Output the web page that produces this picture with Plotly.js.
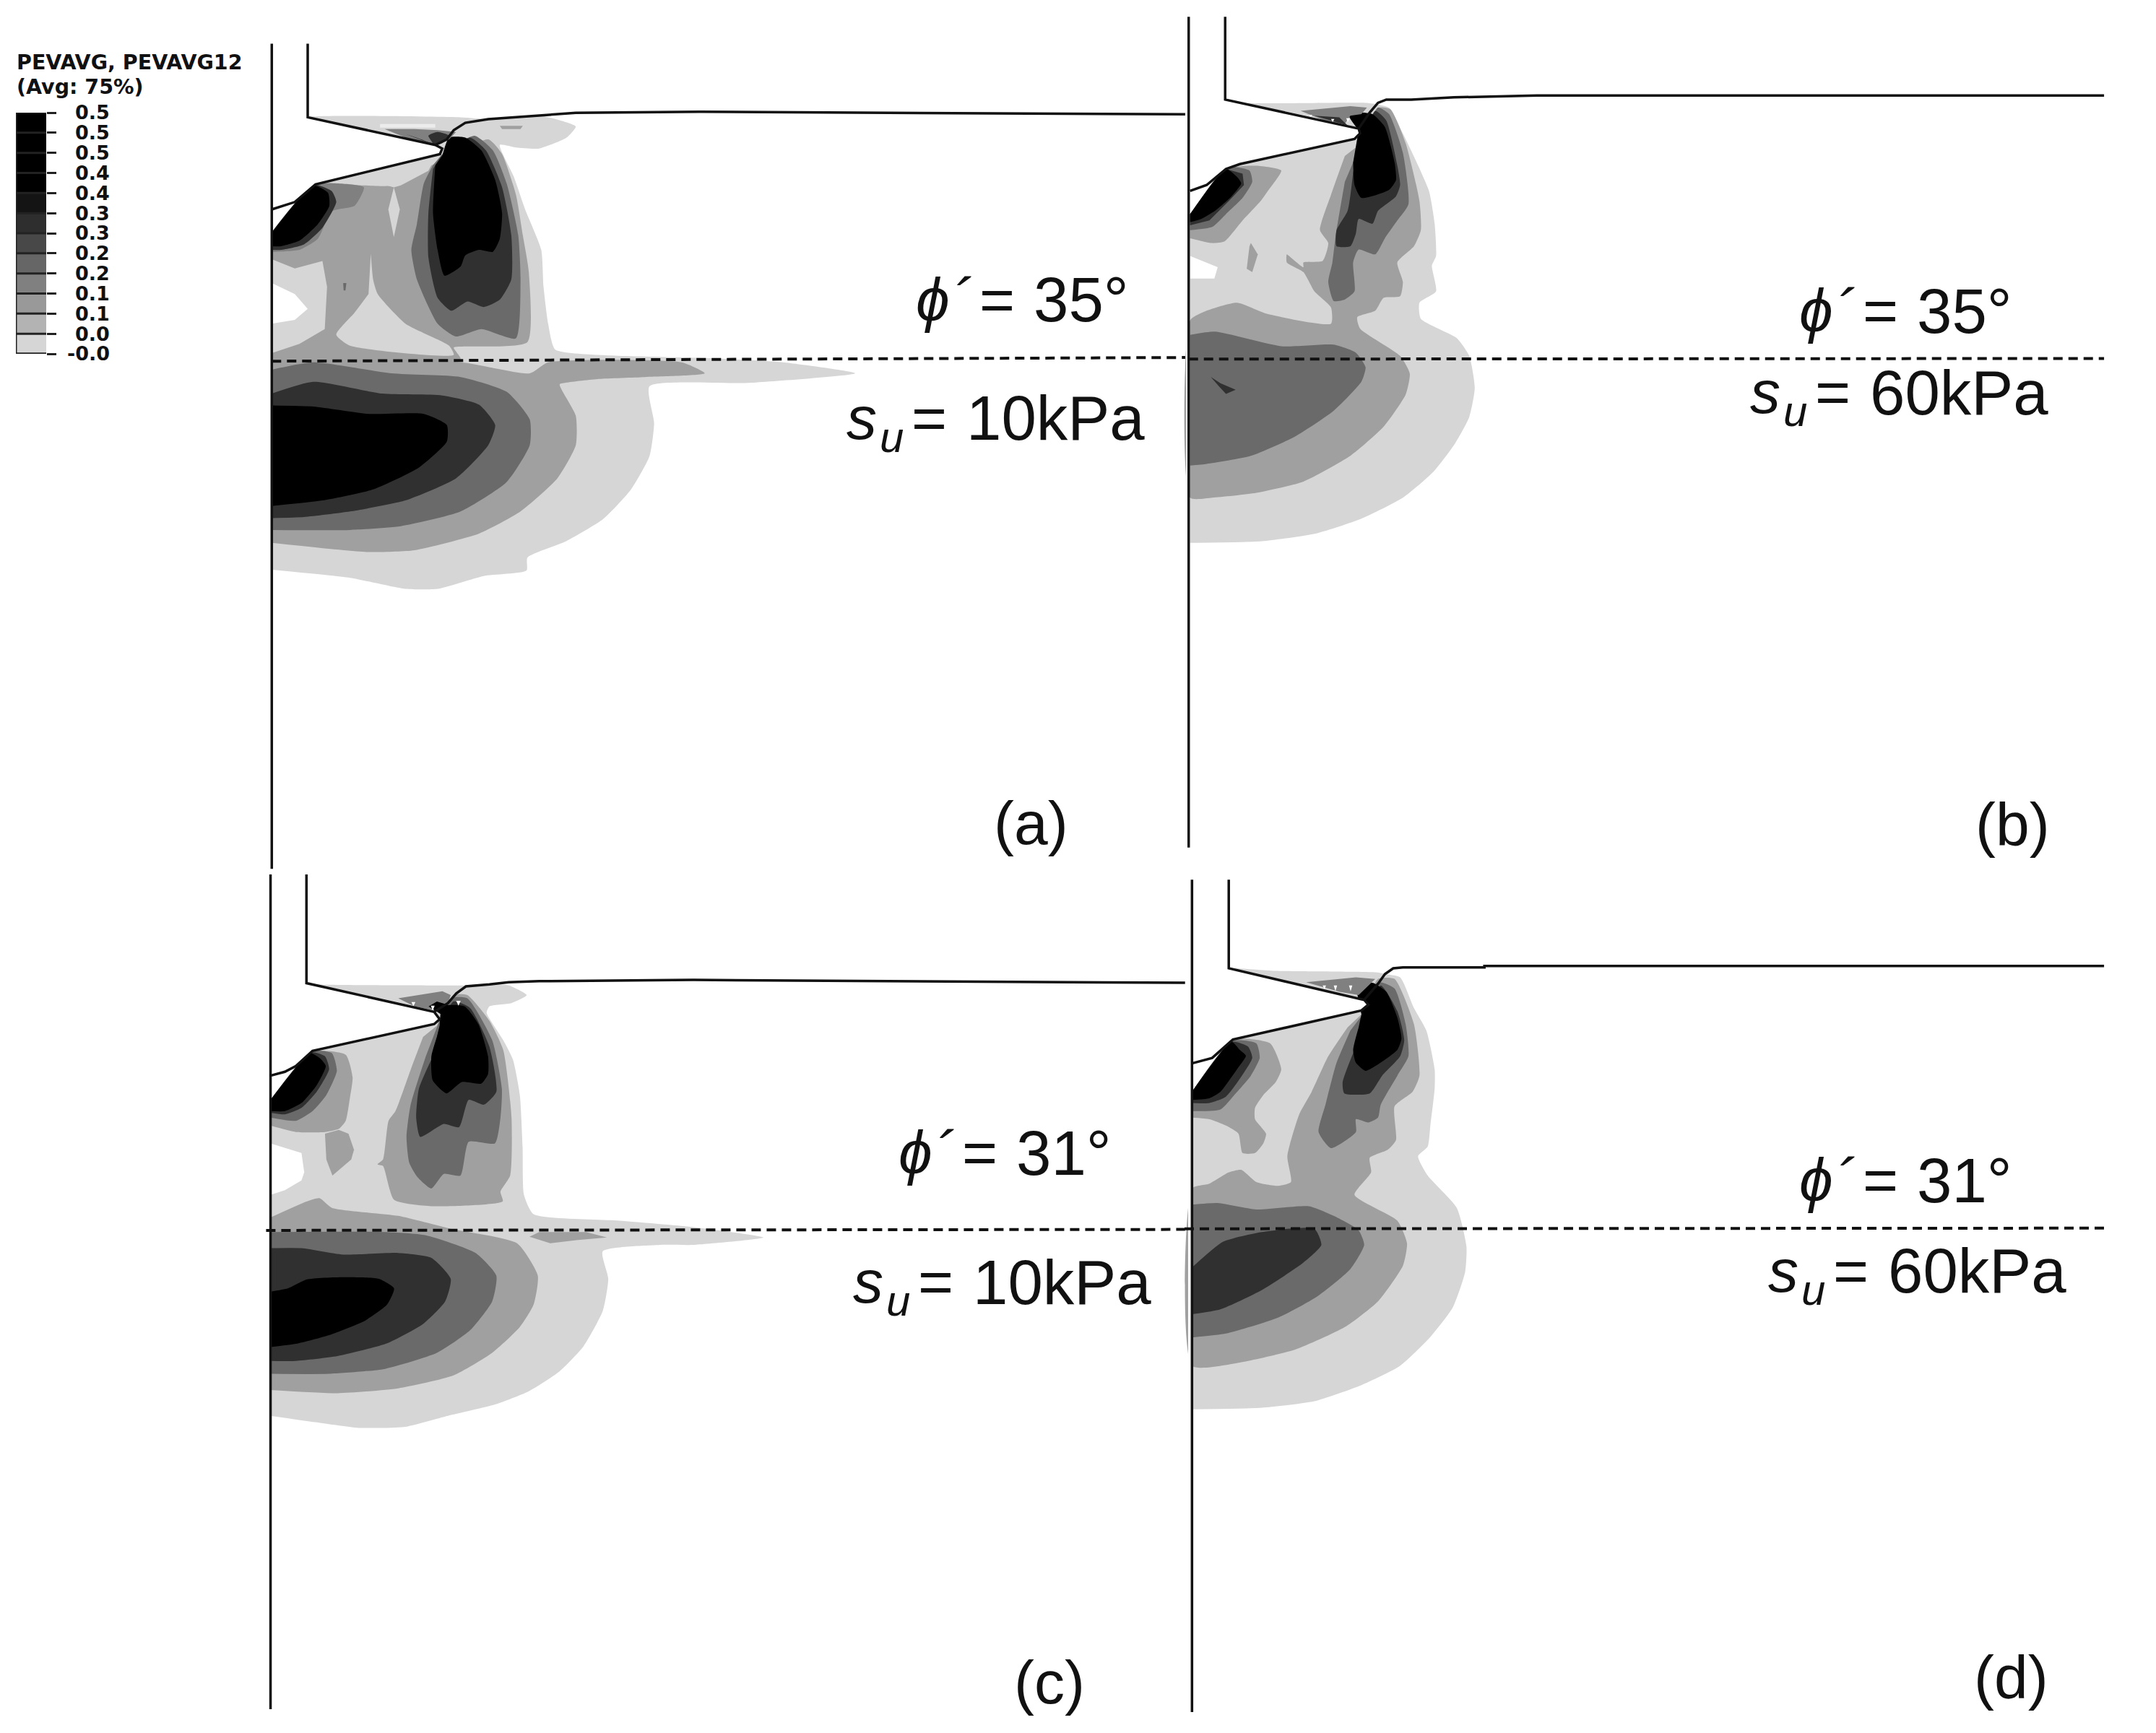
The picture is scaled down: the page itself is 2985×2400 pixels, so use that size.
<!DOCTYPE html>
<html><head><meta charset="utf-8">
<script src="https://cdn.plot.ly/plotly-3.0.1.min.js"></script>
<style>html,body{margin:0;padding:0;background:#fff}</style></head>
<body><div id="chart" style="width:2985px;height:2400px"></div>
<script>
// Legend of the contour plot
const legendTitle = ['PEVAVG, PEVAVG12','(Avg: 75%)'];
const legendTicks = ['-0.0','0.0','0.1','0.1','0.2','0.2','0.3','0.3','0.4','0.4','0.5','0.5','0.5'];
const legendShades = ['#d6d6d6','#b3b3b3','#999999','#808080','#666666','#484848','#2e2e2e','#141414','#000000','#000000','#000000','#000000'];

// Shade of each contour band
const W='#ffffff',P='#ececec',L='#d6d6d6',M='#a0a0a0',N='#808080',G='#6a6a6a',D='#303030',K='#000000';

// Panel (a): phi 35, su 10 kPa - contour outlines
const panelA = [
 [L,[[590,552],[680,423],[945,345],[960,330],[945,315],[668,240],[1000,240],[1060,245],[1170,235],[1215,248],[1250,265],[1230,295],[1170,325],[1120,322],[1085,315],[1115,400],[1140,490],[1175,600],[1180,700],[1190,800],[1205,870],[1300,885],[1568,895],[1700,905],[1857,935],[1626,961],[1410,970],[1420,1070],[1410,1160],[1370,1250],[1310,1330],[1230,1390],[1145,1435],[1143,1470],[1050,1485],[950,1520],[880,1520],[760,1490],[590,1468]]],
 [M,[[590,552],[680,425],[790,425],[855,425],[945,365],[1060,300],[1090,340],[1120,450],[1135,560],[1148,660],[1145,850],[1010,862],[985,865],[1000,895],[985,905],[590,905]]],
 [L,[[590,625],[640,650],[700,630],[710,700],[705,815],[650,855],[590,880]]],
 [W,[[590,690],[640,720],[668,760],[640,790],[590,800]]],
 [L,[[805,610],[810,680],[820,720],[880,800],[975,860],[985,885],[760,860],[730,830],[770,770],[800,720]]],
 [L,[[790,420],[945,350],[930,385],[870,425],[855,430],[840,425]]],
 [L,[[855,430],[868,490],[855,565],[843,490]]],
 [G,[[745,690],[752,690],[750,710],[746,710]]],
 [G,[[960,340],[1030,290],[1070,330],[1100,420],[1125,560],[1130,680],[1120,840],[1045,815],[990,835],[950,800],[905,680],[893,600],[905,530],[920,420],[940,370]]],
 [D,[[958,345],[1020,295],[1055,330],[1090,430],[1110,560],[1110,680],[1085,735],[1050,755],[1015,740],[980,765],[950,730],[930,620],[930,500],[940,380]]],
 [K,[[960,345],[975,295],[1010,295],[1045,330],[1075,410],[1090,500],[1085,570],[1070,605],[1040,600],[1010,615],[1000,645],[965,670],[950,600],[940,500],[945,370]]],
 [N,[[590,590],[680,423],[740,420],[790,430],[770,480],[720,495],[690,570],[650,600],[600,605],[590,605]]],
 [D,[[590,560],[680,423],[720,440],[730,470],[700,540],[660,585],[610,600],[590,600]]],
 [K,[[590,552],[680,425],[712,445],[715,480],[690,530],[650,575],[610,590],[590,590]]],
 [P,[[825,258],[945,258],[945,268],[825,268]]],
 [N,[[835,272],[900,272],[950,275],[990,280],[975,300],[945,315],[890,300]]],
 [D,[[880,285],[915,300],[940,312],[930,290],[950,280],[975,290],[960,310],[945,316]]],
 [M,[[1085,263],[1135,263],[1130,272],[1090,272]]],
 [M,[[590,905],[1000,905],[1150,935],[1190,905],[1480,905],[1530,935],[1400,945],[1300,950],[1230,960],[1215,965],[1250,1050],[1250,1130],[1210,1220],[1130,1310],[1040,1370],[900,1415],[800,1420],[590,1395]]],
 [G,[[590,925],[680,905],[850,935],[1000,945],[1100,985],[1150,1060],[1150,1130],[1100,1230],[1000,1310],[870,1350],[760,1360],[590,1360]]],
 [D,[[590,990],[680,958],[830,990],[960,995],[1040,1020],[1075,1075],[1060,1130],[990,1220],[880,1280],[760,1310],[660,1325],[590,1328]]],
 [K,[[590,1022],[680,1025],[800,1045],[920,1045],[970,1075],[970,1120],[910,1190],[810,1250],[700,1280],[590,1295]]]
];
const lineA = [[[590,40],[590,2280]],[[668,40],[668,240],[945,315],[960,325],[955,340],[685,422],[640,470],[590,490]],[[945,315],[970,300],[985,275],[1010,255],[1060,245],[1170,235],[1250,228],[1520,225],[2000,228],[2573,232]]];
const dashA = [[590,902],[2573,892]];

// Panel (b): phi 35, su 60 kPa - contour outlines
const panelB = [
 [L,[[20,440],[150,300],[200,285],[615,207],[635,190],[630,175],[147,85],[200,95],[660,95],[700,100],[740,110],[790,190],[840,280],[885,370],[905,470],[910,570],[895,600],[910,680],[850,715],[855,765],[985,825],[1030,880],[1050,980],[1030,1070],[980,1150],[900,1240],[790,1320],[640,1385],[480,1430],[280,1455],[20,1460]]],
 [W,[[20,570],[120,605],[108,640],[20,640]]],
 [M,[[20,440],[150,300],[260,290],[350,305],[300,370],[275,400],[210,460],[145,525],[100,530],[20,515]]],
 [M,[[640,220],[700,110],[745,115],[800,220],[850,400],[855,490],[830,540],[770,590],[790,650],[780,695],[720,700],[690,740],[625,760],[635,795],[780,880],[815,935],[800,1000],[720,1100],[600,1190],[430,1270],[260,1305],[100,1320],[20,1320],[20,770],[80,740],[190,715],[300,750],[530,780],[530,730],[470,680],[430,620],[370,590],[370,565],[385,575],[430,605],[430,590],[500,585],[520,530],[490,490],[530,380],[580,260]]],
 [M,[[240,530],[265,565],[245,620],[225,610],[235,540]]],
 [G,[[20,815],[110,805],[350,850],[540,845],[620,870],[655,915],[640,960],[540,1050],[400,1130],[240,1190],[80,1215],[20,1220]]],
 [D,[[95,945],[130,965],[185,985],[150,998],[125,975]]],
 [G,[[640,220],[700,110],[740,130],[790,250],[810,410],[770,460],[725,515],[690,565],[630,550],[610,590],[615,680],[580,705],[540,710],[520,650],[535,590],[548,500],[580,340]]],
 [D,[[640,225],[690,120],[730,150],[770,290],[780,350],[765,385],[700,430],[680,470],[630,455],[620,500],[600,540],[550,540],[550,490],[590,430],[610,310]]],
 [K,[[630,180],[595,135],[630,125],[680,130],[725,170],[760,280],[765,335],[740,365],[640,390],[615,350],[610,280]]],
 [G,[[20,445],[150,295],[235,305],[245,340],[210,390],[150,440],[100,480],[20,490]]],
 [D,[[20,440],[150,300],[210,315],[215,350],[160,400],[90,460],[20,475]]],
 [K,[[20,440],[150,300],[190,325],[205,345],[170,385],[110,430],[60,455],[20,465]]],
 [N,[[420,120],[600,105],[660,110],[640,130],[600,135],[580,160],[520,155]]],
 [D,[[470,135],[530,150],[590,165],[560,140]]],
 [W,[[450,132],[462,132],[456,140]]],
 [W,[[530,145],[542,145],[536,155]]],
 [W,[[585,143],[597,143],[591,155]]]
];
const lineB = [[[15,-172],[15,2405]],[[147,-172],[147,85],[630,175],[635,190],[615,207],[200,285],[150,300],[80,350],[20,368]],[[630,175],[670,125],[700,95],[730,85],[820,85],[975,78],[1275,72],[3327,72]]];
const dashB = [[15,890],[3327,888]];

// Panel (c): phi 31, su 10 kPa - contour outlines
const panelC = [
 [L,[[38,455],[130,350],[190,303],[630,220],[650,205],[630,182],[168,93],[200,97],[745,100],[830,97],[900,100],[965,130],[910,155],[830,165],[820,185],[880,270],[915,330],[940,440],[950,600],[955,750],[990,810],[1300,830],[1568,850],[1821,882],[1568,905],[1450,905],[1240,925],[1260,1010],[1240,1110],[1170,1220],[1080,1300],[970,1360],[850,1400],[680,1435],[520,1470],[350,1472],[200,1455],[38,1435]]],
 [W,[[38,590],[150,620],[160,680],[150,705],[90,735],[38,750]]],
 [M,[[38,455],[190,305],[310,315],[335,385],[325,450],[310,520],[285,545],[235,555],[130,555],[38,535]]],
 [M,[[235,560],[285,548],[320,560],[340,610],[330,640],[262,690],[240,640]]],
 [M,[[640,225],[700,130],[750,130],[830,210],[880,300],[910,510],[905,690],[870,740],[878,770],[620,785],[485,765],[445,660],[425,655],[445,640],[465,520],[490,490],[550,350],[590,260]]],
 [M,[[38,820],[170,770],[215,760],[260,790],[500,815],[690,855],[930,900],[1005,1000],[990,1090],[940,1160],[840,1240],[700,1310],[500,1350],[280,1365],[38,1355]]],
 [M,[[975,880],[1010,865],[1180,865],[1255,882],[1150,890],[1050,900]]],
 [G,[[38,865],[450,865],[600,875],[780,930],[855,1000],[840,1080],[760,1170],[640,1240],[450,1290],[250,1305],[38,1305]]],
 [D,[[38,915],[150,915],[300,935],[500,930],[620,945],[690,1010],[670,1080],[590,1150],[460,1210],[280,1250],[130,1265],[38,1265]]],
 [K,[[38,1050],[100,1040],[170,1012],[300,1005],[430,1010],[485,1040],[460,1090],[380,1140],[250,1185],[130,1212],[38,1222]]],
 [G,[[640,230],[690,140],[750,140],[840,270],[875,420],[870,510],[850,590],[755,585],[725,690],[665,685],[620,730],[570,695],[540,650],[530,570],[545,470],[600,320]]],
 [D,[[650,225],[700,150],[760,170],[830,290],[855,430],[810,470],[755,455],[720,540],[665,530],[580,570],[565,510],[575,420],[620,330]]],
 [K,[[650,225],[660,165],[740,165],[790,220],[825,320],[825,375],[800,405],[730,400],[675,435],[625,395],[620,320],[640,260]]],
 [G,[[38,455],[190,305],[260,310],[278,365],[240,440],[190,490],[130,520],[38,510]]],
 [D,[[38,455],[185,308],[235,320],[250,360],[205,430],[150,480],[90,500],[38,495]]],
 [K,[[38,455],[180,310],[215,325],[238,350],[205,410],[150,465],[90,490],[38,490]]],
 [N,[[500,140],[660,118],[690,130],[680,155],[620,175],[560,165]]],
 [K,[[610,165],[640,150],[680,160],[655,190]]],
 [W,[[548,152],[562,152],[555,165]]],
 [W,[[618,163],[632,163],[625,178]]],
 [W,[[710,148],[726,148],[718,163]]]
];
const lineC = [[[38,-244],[38,2345]],[[168,-244],[168,93],[630,182],[650,205],[630,220],[190,303],[130,350],[90,368],[38,380]],[[630,182],[680,155],[710,125],[745,103],[830,97],[900,90],[1010,87],[1425,85],[1568,83],[3347,92]]];
const dashC = [[22,860],[3347,857]];

// Panel (d): phi 31, su 60 kPa - contour outlines
const panelD = [
 [L,[[27,430],[120,320],[175,268],[210,260],[640,178],[665,160],[650,145],[160,47],[330,55],[700,60],[725,65],[780,75],[830,170],[875,240],[905,360],[905,420],[890,530],[880,600],[845,630],[880,690],[985,790],[1020,910],[1015,990],[970,1100],[890,1190],[780,1280],[640,1340],[470,1390],[280,1410],[27,1415]]],
 [M,[[27,430],[175,268],[310,280],[350,360],[330,400],[285,440],[255,480],[255,515],[295,560],[285,590],[255,620],[210,620],[195,560],[150,535],[90,515],[27,510]]],
 [M,[[640,190],[700,80],[760,80],[830,220],[850,380],[825,430],[760,475],[765,580],[735,610],[670,635],[675,680],[615,750],[770,830],[805,900],[790,970],[700,1080],[580,1160],[400,1230],[200,1270],[27,1280],[27,730],[90,715],[160,680],[205,672],[260,710],[340,722],[385,710],[372,630],[415,500],[460,430],[520,320],[590,230]]],
 [G,[[27,780],[120,775],[260,795],[450,785],[540,815],[630,860],[650,905],[600,980],[480,1065],[340,1130],[150,1180],[27,1192]]],
 [D,[[27,975],[140,895],[280,865],[470,855],[495,905],[430,960],[280,1045],[130,1105],[27,1120]]],
 [G,[[645,190],[700,90],[760,110],[800,220],[810,320],[770,380],[710,470],[700,510],[665,525],[620,515],[620,555],[530,605],[485,555],[510,470],[550,340],[600,240]]],
 [D,[[650,190],[710,100],[770,180],[795,270],[780,320],[715,380],[670,435],[578,435],[572,400],[610,310]]],
 [K,[[640,190],[625,100],[680,92],[730,120],[770,200],[785,265],[770,300],[700,345],[655,365],[620,340],[610,300],[630,230]]],
 [G,[[27,430],[175,272],[260,280],[272,325],[240,380],[180,440],[130,485],[27,490]]],
 [D,[[27,430],[170,275],[230,290],[245,325],[200,390],[150,445],[90,465],[27,465]]],
 [K,[[27,430],[170,275],[200,300],[222,318],[190,360],[130,430],[90,450],[27,455]]],
 [N,[[440,90],[620,75],[690,80],[630,130],[560,120]]],
 [W,[[500,100],[512,100],[506,112]]],
 [W,[[540,100],[552,100],[546,118]]],
 [W,[[595,100],[607,100],[601,118]]]
];
const lineD = [[[27,-228],[27,2354]],[[160,-228],[160,47],[650,145],[665,160],[640,178],[210,260],[175,268],[100,325],[27,342]],[[650,145],[700,95],[725,65],[755,47],[790,44],[1085,44],[1085,40],[3327,40]]];
const dashD = [[0,855],[3327,853]];

// Panel annotations
const panelTexts = [
 {phi:'35',su:'10',tag:'(a)'},{phi:'35',su:'60',tag:'(b)'},{phi:'31',su:'10',tag:'(c)'},{phi:'31',su:'60',tag:'(d)'}
];

const PW=2985, PH=2400;
const panels=[
 {id:'',  shapes:panelA,lines:lineA,dash:dashA,win:[0,40,1000,800]},
 {id:'2', shapes:panelB,lines:lineB,dash:dashB,win:[1640,100,600,700]},
 {id:'3', shapes:panelC,lines:lineC,dash:dashC,win:[360,1320,600,700]},
 {id:'4', shapes:panelD,lines:lineD,dash:dashD,win:[1640,1320,600,700]}
];
const layout={width:PW,height:PH,margin:{l:0,r:0,t:0,b:0},paper_bgcolor:'#fff',plot_bgcolor:'rgba(0,0,0,0)',showlegend:false,annotations:[]};
const traces=[];
const hidden={visible:false,domain:[0,1],fixedrange:true};
panels.forEach(p=>{
 const [x0,y0,w,h]=p.win, sx=1568/w, sy=1568/h;
 layout['xaxis'+p.id]=Object.assign({},hidden,{range:[-x0*sx,(PW-x0)*sx],anchor:'y'+p.id});
 layout['yaxis'+p.id]=Object.assign({},hidden,{range:[(PH-y0)*sy,-y0*sy],anchor:'x'+p.id});
 const xa='x'+p.id, ya='y'+p.id;
 p.shapes.forEach(([c,pts])=>{
  const smooth=pts.length>=8;
  traces.push({type:'scatter',mode:'lines',line:{width:0,shape:smooth?'spline':'linear',smoothing:0.55,color:c},fill:'toself',fillcolor:c,x:pts.map(q=>q[0]),y:pts.map(q=>q[1]),xaxis:xa,yaxis:ya,hoverinfo:'skip'});
 });
 // The wedge between the pile wall and the cone stays empty: same outline as the drawn profile
 const wall=p.lines[0], wedge=p.lines[1], wx=wall[0][0];
 const mouth=wedge.concat([[wx,wedge[wedge.length-1][1]],[wx,wall[0][1]]]);
 traces.push({type:'scatter',mode:'none',fill:'toself',fillcolor:W,x:mouth.map(q=>q[0]),y:mouth.map(q=>q[1]),xaxis:xa,yaxis:ya,hoverinfo:'skip'});
 // Contours end at the wall: nothing shows on its far side
 const edge=(p.id==='')?28:(p.id==='2'?9:(p.id==='3'?28:14));
 traces.push({type:'scatter',mode:'none',fill:'toself',fillcolor:W,x:[wx-edge,wx,wx,wx-edge],y:[wall[0][1],wall[0][1],wall[1][1],wall[1][1]],xaxis:xa,yaxis:ya,hoverinfo:'skip'});
 p.lines.forEach(pts=>traces.push({type:'scatter',mode:'lines',line:{color:'#111',width:3.5},x:pts.map(q=>q[0]),y:pts.map(q=>q[1]),xaxis:xa,yaxis:ya,hoverinfo:'skip'}));
 traces.push({type:'scatter',mode:'lines',line:{color:'#111',width:4,dash:'13px,8px'},x:p.dash.map(q=>q[0]),y:p.dash.map(q=>q[1]),xaxis:xa,yaxis:ya,hoverinfo:'skip'});
});

// Legend: stacked colour bar on its own axes
const LX0=22,LX1=64,LY0=156,LY1=490;
layout.xaxis5={domain:[LX0/PW,LX1/PW],range:[0,1],visible:false,anchor:'y5',fixedrange:true};
layout.yaxis5={domain:[1-LY1/PH,1-LY0/PH],range:[0,12],anchor:'free',position:LX1/PW,side:'right',tickvals:legendTicks.map((_,i)=>i),ticktext:legendTicks.map(()=>''),ticks:'outside',ticklen:13,tickwidth:3,tickcolor:'#222',showgrid:false,zeroline:false,showline:false,fixedrange:true};
traces.push({type:'heatmap',x:[0,1],y:legendTicks.map((_,i)=>i),z:legendShades.map((_,i)=>[i+0.5]),zmin:0,zmax:12,
 colorscale:legendShades.flatMap((c,i)=>[[i/12,c],[(i+1)/12,c]]),showscale:false,xaxis:'x5',yaxis:'y5',hoverinfo:'skip'});
traces.push({type:'scatter',mode:'lines',line:{color:'#222',width:3},
 x:legendTicks.flatMap(()=>[0,1,null]),y:legendTicks.flatMap((_,i)=>[i,i,null]),xaxis:'x5',yaxis:'y5',hoverinfo:'skip'});
traces.push({type:'scatter',mode:'lines',line:{color:'#222',width:3},x:[0,0,1],y:[12,0,0],xaxis:'x5',yaxis:'y5',hoverinfo:'skip'});

function px(x,y,text,size,opt){opt=opt||{};layout.annotations.push({xref:'paper',yref:'paper',x:x/PW,y:1-y/PH,text,showarrow:false,xanchor:opt.anchor||'left',yanchor:'middle',borderpad:0,
 font:{family:opt.fam||'Liberation Sans',size,color:'#111',style:opt.it?'italic':'normal',weight:opt.b?700:400}});}
legendTicks.forEach((t,i)=>px(153,LY1-i*(LY1-LY0)/12,t,27,{anchor:'right',fam:'DejaVu Sans',b:1}));
legendTitle.forEach((t,i)=>px(22,[86,120][i],t,28.5,{fam:'DejaVu Sans',b:1}));

const txtPos=[
 {phi:[1267,415],su:[1171,579],tag:[1375,1140]},
 {phi:[2490,430],su:[2422,543],tag:[2734,1142]},
 {phi:[1243,1596],su:[1180,1775],tag:[1403,2330]},
 {phi:[2490,1634],su:[2447,1760],tag:[2732,2323]}
];
const FS=84, FV=87;
panelTexts.forEach((t,i)=>{
 const q=txtPos[i], [fx,fy]=q.phi, [sx,sy]=q.su;
 px(fx,fy,'ϕ',FS,{it:1});
 px(fx+50,fy,'´',FS,{it:1});
 px(fx+88,fy,'=',FS);
 px(fx+163,fy,t.phi+'°',FV);
 px(sx,sy,'s',FS,{it:1});
 px(sx+46,sy+26,'u',60,{it:1});
 px(sx+90,sy,'=',FS);
 px(sx+166,sy,t.su+'kPa',FV);
 px(q.tag[0],q.tag[1],t.tag,FS);
});
Plotly.newPlot('chart',traces,layout,{displayModeBar:false,staticPlot:true});
</script></body></html>
